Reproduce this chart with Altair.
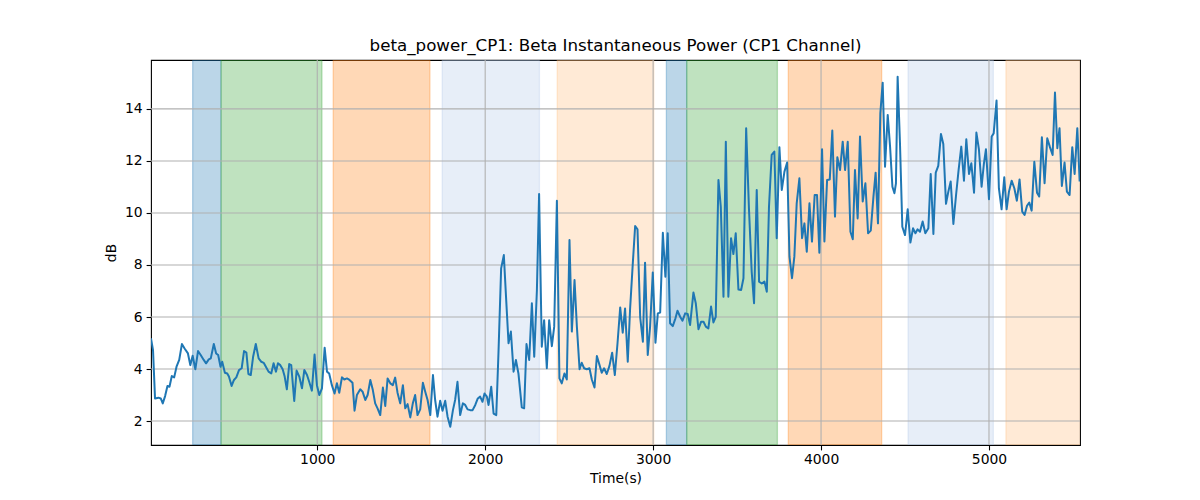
import altair as alt
import pandas as pd

# ---- line series (time in s, power in dB) ----
t_a = [10, 22, 34, 54, 68, 80, 94, 108, 120, 134, 148, 162, 178, 194, 210, 230, 244, 258, 274, 290,
       304, 324, 338, 354, 366, 384, 398, 410, 424, 434, 450, 464, 474, 490, 504, 518, 534, 550, 564, 578,
       590, 604, 618, 634]
v_a = [5.18, 4.73, 2.87, 2.9, 2.87, 2.68, 2.96, 3.35, 3.32, 3.73, 3.68, 4.09, 4.35, 4.96, 4.79, 4.6, 4.15, 4.51, 3.99, 4.69,
       4.56, 4.35, 4.22, 4.37, 4.41, 4.96, 4.6, 4.54, 4.09, 4.28, 3.86, 3.83, 3.71, 3.35, 3.58, 3.68, 3.96, 4.03, 4.69, 4.63,
       3.81, 3.77, 4.47, 4.96]
t_b = [651, 667, 681, 694, 710, 726, 740, 754, 766, 780, 794, 806, 819, 833, 845, 863, 877, 893, 909, 923,
       939, 952, 968, 984, 998, 1012, 1028, 1044, 1058, 1071, 1087, 1103, 1117, 1131, 1147, 1161, 1177, 1192, 1210, 1222,
       1236, 1256, 1270, 1286]
v_b = [4.41, 4.28, 4.24, 4.09, 3.9, 3.83, 4.22, 3.9, 4.22, 4.15, 3.99, 3.71, 3.22, 4.19, 4.15, 2.77, 3.94, 3.71, 3.26, 3.96,
       3.77, 3.51, 3.17, 4.56, 3.38, 3.0, 3.26, 4.82, 3.9, 3.83, 3.38, 3.06, 3.45, 3.09, 3.68, 3.6, 3.64, 3.58, 3.47, 2.4,
       3.0, 3.22, 3.13, 2.81]
t_c = [1300, 1316, 1331, 1345, 1359, 1375, 1391, 1405, 1419, 1435, 1450, 1464, 1478, 1494, 1510, 1524, 1538, 1554, 1569, 1583,
       1597, 1613, 1629, 1643, 1657, 1673, 1689, 1702, 1716, 1732, 1746, 1762, 1776, 1792, 1808, 1821, 1835, 1851, 1867, 1881,
       1895, 1911]
v_c = [3.0, 3.58, 3.19, 2.68, 2.49, 2.23, 3.29, 2.58, 3.64, 3.45, 3.38, 3.67, 3.09, 2.68, 3.38, 2.49, 2.65, 2.14, 2.68, 3.0,
       2.23, 2.45, 3.47, 3.13, 2.81, 2.23, 3.77, 2.81, 2.17, 2.78, 2.4, 2.78, 2.17, 1.78, 2.42, 2.81, 3.51, 2.23, 2.68, 2.62,
       2.45, 2.42]
t_d = [1925, 1941, 1956, 1970, 1984, 1996, 2010, 2020, 2036, 2050, 2066, 2079, 2095, 2111, 2123, 2139, 2153, 2169, 2183, 2198,
       2218, 2232, 2246, 2262, 2278, 2292, 2308, 2321, 2337, 2351, 2367, 2381, 2397, 2411, 2427, 2442, 2456, 2472, 2486, 2502,
       2516, 2532]
v_d = [2.42, 2.62, 2.87, 2.94, 2.74, 3.06, 2.94, 2.62, 3.32, 2.29, 2.23, 4.6, 7.87, 8.38, 6.91, 4.99, 5.44, 3.9, 4.35, 3.83,
       2.53, 2.49, 4.96, 4.35, 6.53, 4.47, 7.04, 10.73, 4.86, 5.88, 4.03, 5.88, 4.88, 5.63, 10.47, 3.64, 3.45, 3.83, 3.6, 8.96,
       5.44, 7.42]
t_e = [2546, 2562, 2575, 2589, 2605, 2621, 2635, 2651, 2665, 2681, 2694, 2708, 2724, 2740, 2756, 2772, 2788, 2804, 2819, 2833,
       2849, 2863, 2879, 2893, 2907, 2923, 2939, 2952, 2968, 2982, 2998, 3014, 3028, 3042, 3058, 3073, 3087, 3101, 3117, 3133,
       3145, 3161]
v_e = [5.63, 3.99, 4.24, 4.03, 3.99, 4.03, 3.6, 3.29, 4.5, 4.15, 3.86, 4.03, 3.81, 4.12, 4.63, 3.77, 4.99, 6.37, 5.4, 6.33,
       4.28, 6.33, 8.06, 9.5, 9.37, 5.99, 5.05, 8.09, 4.54, 5.63, 7.71, 5.01, 6.14, 6.17, 9.24, 7.55, 9.22, 5.76, 5.65, 5.95,
       6.24, 6.01]
t_f = [3175, 3191, 3206, 3220, 3240, 3254, 3270, 3286, 3300, 3314, 3329, 3345, 3359, 3373, 3389, 3403, 3419, 3433, 3448, 3464,
       3478, 3492, 3508, 3524, 3538, 3554, 3571, 3587, 3601, 3617, 3631, 3647, 3663, 3677, 3690, 3706, 3722, 3736, 3752, 3766,
       3782]
v_f = [5.86, 6.14, 6.12, 5.69, 6.94, 6.53, 5.53, 5.82, 5.82, 5.63, 5.56, 6.4, 5.79, 6.01, 11.27, 10.24, 6.78, 12.74, 6.78, 9.03,
       8.42, 9.22, 7.06, 7.04, 7.49, 13.26, 10.12, 7.74, 6.53, 10.88, 7.36, 7.29, 7.36, 6.97, 10.24, 12.23, 12.36, 9.03, 12.53, 10.88,
       11.59]
t_g = [3798, 3812, 3827, 3841, 3855, 3871, 3887, 3901, 3915, 3931, 3946, 3962, 3976, 3990, 4006, 4020, 4036, 4052, 4067, 4083,
       4097, 4113, 4129, 4143, 4159, 4175, 4189, 4202, 4218, 4232, 4248, 4264, 4280, 4296, 4312, 4325, 4339, 4353, 4367, 4381,
       4397, 4411]
v_g = [11.94, 8.32, 7.49, 8.32, 10.37, 11.33, 9.03, 9.6, 8.51, 10.37, 8.9, 10.69, 10.69, 8.47, 12.45, 8.9, 11.27, 11.29, 13.17, 9.86,
       12.14, 11.65, 12.74, 11.65, 12.74, 9.28, 8.99, 11.65, 9.79, 12.94, 10.44, 11.14, 9.22, 9.32, 10.63, 11.55, 9.6, 13.83, 15.01, 11.78,
       13.77, 12.55]
t_h = [4425, 4437, 4446, 4456, 4470, 4484, 4500, 4516, 4532, 4548, 4562, 4575, 4589, 4605, 4621, 4639, 4653, 4669, 4683, 4698,
       4714, 4728, 4744, 4758, 4772, 4788, 4804, 4819, 4835, 4851, 4865, 4881, 4895, 4911, 4925, 4940, 4956, 4970, 4982, 5000]
v_h = [11.01, 10.76, 11.14, 15.24, 12.68, 9.47, 9.15, 10.14, 8.86, 9.41, 9.22, 9.37, 9.28, 9.67, 9.22, 9.41, 11.5, 9.19, 11.55, 11.81,
       13.04, 12.65, 10.35, 10.82, 11.21, 9.58, 10.69, 11.65, 12.55, 11.24, 12.83, 11.5, 11.91, 10.78, 13.09, 12.45, 11.01, 11.91, 12.45, 10.53]
t_i = [5016, 5028, 5045, 5059, 5075, 5091, 5105, 5119, 5135, 5151, 5166, 5182, 5198, 5212, 5226, 5240, 5254, 5270, 5286, 5299,
       5315, 5331, 5347, 5363, 5379, 5393, 5407, 5420, 5434, 5450, 5464, 5480, 5496, 5510, 5526, 5540]
v_i = [12.94, 13.06, 14.32, 10.95, 10.14, 11.37, 10.14, 10.82, 11.24, 10.95, 10.47, 11.29, 10.05, 9.92, 10.27, 10.4, 10.09, 11.97, 10.78, 10.63,
       12.91, 11.14, 12.87, 12.53, 12.23, 14.63, 12.49, 13.26, 11.04, 11.94, 10.82, 10.69, 12.53, 11.5, 13.26, 11.21]

# ---- shaded intervals ----
span_start = [258, 427, 1095, 1744, 2429, 3079, 3200, 3805, 4518, 5101]
span_end = [427, 1028, 1671, 2323, 3004, 3200, 3740, 4361, 5026, 5600]
span_kind = ["a", "b", "c", "d", "e", "a", "b", "c", "d", "e"]
kind_domain = ["a", "b", "c", "d", "e"]
kind_colors = ["#1f77b4", "#2ca02c", "#ff7f0e", "#aec7e8", "#ffbb78"]

x_ticks = [1000, 2000, 3000, 4000, 5000]
y_ticks = [2, 4, 6, 8, 10, 12, 14]
x_domain = [10, 5542]
y_domain = [1.08, 15.88]

times = t_a + t_b + t_c + t_d + t_e + t_f + t_g + t_h + t_i
values = v_a + v_b + v_c + v_d + v_e + v_f + v_g + v_h + v_i
line_df = pd.DataFrame({"t": times, "v": values})
span_df = pd.DataFrame({"start": span_start, "end": span_end, "kind": span_kind})
xt_df = pd.DataFrame({"t": x_ticks})
yt_df = pd.DataFrame({"v": y_ticks})

FS = 13.9
xaxis = alt.Axis(values=x_ticks, format="d", grid=False, domain=False, tickColor="black",
                 tickSize=4.9, tickWidth=1.1, labelFontSize=FS, labelColor="black", labelPadding=3,
                 title="Time(s)", titleFontSize=FS, titleFontWeight="normal", titleColor="black",
                 titlePadding=5)
yaxis = alt.Axis(values=y_ticks, format="d", grid=False, domain=False, tickColor="black",
                 tickSize=4.9, tickWidth=1.1, labelFontSize=FS, labelColor="black", labelPadding=4,
                 title="dB", titleFontSize=FS, titleFontWeight="normal", titleColor="black",
                 titlePadding=6)
xs = alt.Scale(domain=x_domain, nice=False, zero=False)
ys = alt.Scale(domain=y_domain, nice=False, zero=False)

spans = alt.Chart(span_df).mark_rect(fillOpacity=0.3, strokeOpacity=0.3, strokeWidth=1.3, clip=True).encode(
    x=alt.X("start:Q", scale=xs, axis=xaxis),
    x2="end:Q",
    fill=alt.Fill("kind:N", scale=alt.Scale(domain=kind_domain, range=kind_colors), legend=None),
    stroke=alt.Stroke("kind:N", scale=alt.Scale(domain=kind_domain, range=kind_colors), legend=None),
)
xgrid = alt.Chart(xt_df).mark_rule(color="#b0b0b0", strokeWidth=1.1).encode(
    x=alt.X("t:Q", scale=xs, axis=xaxis))
ygrid = alt.Chart(yt_df).mark_rule(color="#b0b0b0", strokeWidth=1.1).encode(
    y=alt.Y("v:Q", scale=ys, axis=yaxis))
line = alt.Chart(line_df).mark_line(color="#1f77b4", strokeWidth=2.0, strokeJoin="round", clip=True).encode(
    x=alt.X("t:Q", scale=xs, axis=xaxis),
    y=alt.Y("v:Q", scale=ys, axis=yaxis),
)

chart = alt.layer(spans, xgrid, ygrid, line).properties(
    width=929, height=385,
    title=alt.TitleParams("beta_power_CP1: Beta Instantaneous Power (CP1 Channel)",
                          fontSize=16.7, fontWeight="normal", color="black", anchor="middle",
                          offset=5, font="DejaVu Sans"),
    autosize=alt.AutoSizeParams(type="none"),
    padding={"left": 143, "top": 52, "right": 112, "bottom": 47},
).configure(font="DejaVu Sans", background="white").configure_view(stroke="black", strokeWidth=1.1)

chart.save("out.html", embed_options={"renderer": "svg", "actions": False})
